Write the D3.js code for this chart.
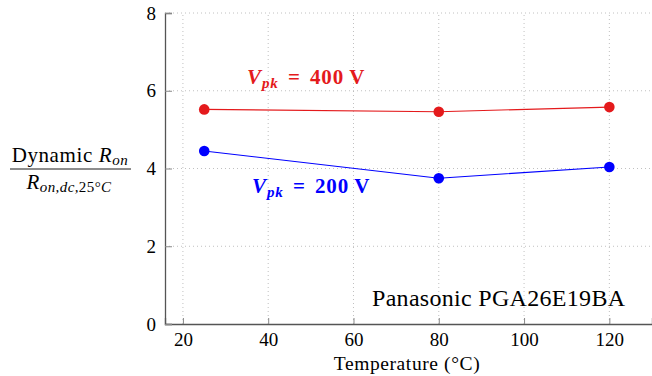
<!DOCTYPE html>
<html>
<head>
<meta charset="UTF-8">
<script src="https://d3js.org/d3.v7.min.js"></script>
<style>
  body { margin: 0; background: #fff; }
  svg text { font-family: "Liberation Serif", "Times New Roman", serif; }
</style>
</head>
<body>
<svg width="652" height="376"></svg>
<script>
// donnees
const temperatures = [25, 80, 120];
const ron400 = [5.52, 5.46, 5.58];
const ron200 = [4.45, 3.75, 4.04];
const xTicks = [20, 40, 60, 80, 100, 120];
const yTicks = [0, 2, 4, 6, 8];

const svg = d3.select("svg");
const x = d3.scaleLinear().domain([15.8, 130]).range([165, 652]);
const y = d3.scaleLinear().domain([0, 8]).range([324, 13]);

const red = "#e41a1c";
const blue = "#0000ff";
const serif = '"Liberation Serif", "Times New Roman", serif';

// grille pointillee
svg.append("g").selectAll("line")
    .data(xTicks).enter().append("line")
    .attr("x1", d => x(d)).attr("x2", d => x(d))
    .attr("y1", y(0)).attr("y2", y(8))
    .attr("stroke", "#b0b0b0").attr("stroke-width", 0.8)
    .attr("stroke-dasharray", "1 3");
svg.append("g").selectAll("line")
    .data(yTicks.filter(d => d > 0)).enter().append("line")
    .attr("x1", x.range()[0]).attr("x2", x.range()[1])
    .attr("y1", d => y(d)).attr("y2", d => y(d))
    .attr("stroke", "#b0b0b0").attr("stroke-width", 0.8)
    .attr("stroke-dasharray", "1 3");

// axes
const xAxis = d3.axisBottom(x).tickValues(xTicks).tickSize(-6).tickPadding(9);
const yAxis = d3.axisLeft(y).tickValues(yTicks).tickSize(-7).tickPadding(9);

const gx = svg.append("g").attr("transform", `translate(0,${y(0)})`).call(xAxis);
const gy = svg.append("g").attr("transform", `translate(${x.range()[0]},0)`).call(yAxis);
[gx, gy].forEach(g => {
    g.attr("font-family", null);
    g.select(".domain").attr("stroke", "#555").attr("stroke-width", 1.3);
    g.selectAll(".tick line").attr("stroke", "#888");
    g.selectAll(".tick text").attr("font-size", 19).attr("fill", "#000")
        .style("font-family", serif);
});
gx.selectAll(".tick text").attr("dy", "0.71em");

// courbes
const line = d3.line().x(d => x(d[0])).y(d => y(d[1]));
[[ron400, red], [ron200, blue]].forEach(([vals, col]) => {
    const pts = temperatures.map((t, i) => [t, vals[i]]);
    svg.append("path").datum(pts)
        .attr("d", line).attr("fill", "none")
        .attr("stroke", col).attr("stroke-width", 1.1);
    svg.selectAll(null).data(pts).enter().append("circle")
        .attr("cx", d => x(d[0])).attr("cy", d => y(d[1]))
        .attr("r", 5.3).attr("fill", col);
});

// etiquettes des series
function vpk(label, px, py, col) {
    const t = svg.append("text").attr("x", px).attr("y", py)
        .attr("fill", col).attr("font-size", 21).attr("font-weight", "bold")
        .attr("letter-spacing", 0.9).attr("word-spacing", 3);
    t.append("tspan").attr("font-style", "italic").text("V");
    t.append("tspan").attr("font-style", "italic").attr("font-size", 15)
        .attr("dy", 4).text("pk");
    t.append("tspan").attr("dy", -4).text(" = " + label);
}
vpk("400\u2009V", 247, 84, red);
vpk("200\u2009V", 252, 193, blue);

svg.append("text").attr("x", 372).attr("y", 306)
    .attr("font-size", 24).attr("letter-spacing", 0.3)
    .text("Panasonic PGA26E19BA");

svg.append("text").attr("x", 407).attr("y", 370)
    .attr("text-anchor", "middle").attr("font-size", 19.5)
    .attr("letter-spacing", 0.6)
    .text("Temperature (\u00B0C)");

// etiquette y en fraction
const num = svg.append("text").attr("x", 70).attr("y", 162)
    .attr("text-anchor", "middle").attr("font-size", 21)
    .attr("letter-spacing", 0.6);
num.append("tspan").text("Dynamic ");
num.append("tspan").attr("font-style", "italic").text("R");
num.append("tspan").attr("font-style", "italic").attr("font-size", 15)
    .attr("dy", 3).text("on");
svg.append("line").attr("x1", 10).attr("x2", 131)
    .attr("y1", 169).attr("y2", 169).attr("stroke", "#000").attr("stroke-width", 0.9);
const den = svg.append("text").attr("x", 69).attr("y", 189)
    .attr("text-anchor", "middle").attr("font-size", 21).attr("letter-spacing", 0.4);
den.append("tspan").attr("font-style", "italic").text("R");
const sub = den.append("tspan").attr("font-size", 15).attr("dy", 3);
sub.append("tspan").attr("font-style", "italic").text("on,dc,");
sub.append("tspan").text("25\u00B0");
sub.append("tspan").attr("font-style", "italic").text("C");
</script>
</body>
</html>
